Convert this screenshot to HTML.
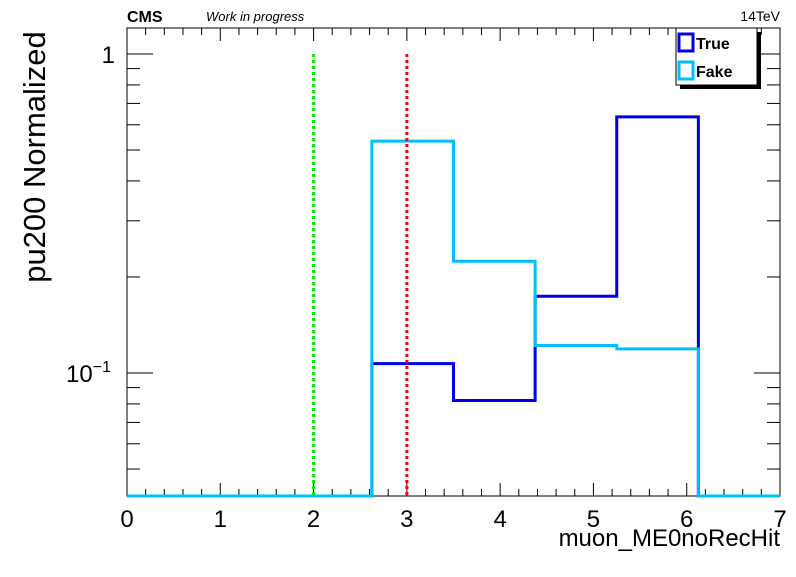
<!DOCTYPE html>
<html><head><meta charset="utf-8"><style>
body{margin:0;background:#fff;}
svg text{font-family:"Liberation Sans",Arial,sans-serif;}
</style></head><body>
<svg id="c" width="796" height="572" viewBox="0 0 796 572" xmlns="http://www.w3.org/2000/svg">
<rect width="796" height="572" fill="#fff"/>
<text x="127" y="22" font-size="16" font-weight="bold">CMS</text>
<text x="206" y="21" font-size="13" font-style="italic">Work in progress</text>
<text x="780" y="21" font-size="14" text-anchor="end">14TeV</text>
<g id="plot"></g>
<text transform="translate(45,157) rotate(-90)" font-size="31" text-anchor="middle">pu200 Normalized</text>
<text x="780" y="546" font-size="24" text-anchor="end">muon_ME0noRecHit</text>
<g>
<rect x="680" y="32" width="81" height="57" fill="#000"/>
<rect x="676" y="28" width="81" height="57" fill="#fff" stroke="#000" stroke-width="1"/>
<rect x="679" y="34" width="14" height="17" fill="none" stroke="#0000e6" stroke-width="3"/>
<text x="696" y="49" font-size="16" font-weight="bold">True</text>
<rect x="679" y="62" width="14" height="17" fill="none" stroke="#00bfff" stroke-width="3"/>
<text x="696" y="77" font-size="16" font-weight="bold">Fake</text>
</g>
</svg>
<script>
const binEdges=[0,0.875,1.75,2.625,3.5,4.375,5.25,6.125,7];
const trueValues=[0,0,0,0.107,0.082,0.174,0.635,0];
const fakeValues=[0,0,0,0.533,0.224,0.122,0.119,0];
const xTicks=[0,1,2,3,4,5,6,7];
const cutLines=[2,3];
const L=127,R=780,T=28,B=496;
const xMin=0,xMax=7;
const yTopLog=(54-T)/319, yBotLog=-1-(B-373)/319;
function X(v){return L+(v-xMin)/(xMax-xMin)*(R-L);}
function Y(v){if(v<=0)return B;const l=Math.log10(v);let y=T+(yTopLog-l)/(yTopLog-yBotLog)*(B-T);return Math.min(B,Math.max(T,y));}
const NS="http://www.w3.org/2000/svg";
const g=document.getElementById('plot');
function el(t,a){const e=document.createElementNS(NS,t);for(const k in a)e.setAttribute(k,a[k]);g.appendChild(e);return e;}
let fr=el('rect',{x:L,y:T,width:R-L,height:B-T,fill:'none',stroke:'#000','stroke-width':1});


for(let i=0;i<=35;i++){const v=i*0.2;const x=X(v);const major=i%5===0;const len=major?13:7;
 el('line',{x1:x,y1:B,x2:x,y2:B-len,stroke:'#000'});el('line',{x1:x,y1:T,x2:x,y2:T+len,stroke:'#000'});}
xTicks.forEach(v=>{const t=el('text',{x:X(v),y:527,'font-size':24,'text-anchor':'middle'});t.textContent=v;
 
 });
const minor=[];for(let d=-2;d<=0;d++)for(let m=1;m<=9;m++)minor.push(m*Math.pow(10,d));
minor.forEach(v=>{const l=Math.log10(v);if(l<yBotLog||l>yTopLog)return;const y=Y(v);const major=Math.abs(l-Math.round(l))<1e-9;const len=major?26:13;
 el('line',{x1:L,y1:y,x2:L+len,y2:y,stroke:'#000'});el('line',{x1:R,y1:y,x2:R-len,y2:y,stroke:'#000'});});
let t1=el('text',{x:115,y:Y(1)+9,'font-size':24,'text-anchor':'end'});t1.textContent='1';


let t2=el('text',{x:111,y:Y(0.1)+9,'font-size':24,'text-anchor':'end'});t2.innerHTML='10<tspan dy="-10" font-size="16">−1</tspan>';


function hist(vals,color,name){let d='';for(let i=0;i<vals.length;i++){const x0=X(binEdges[i]),x1=X(binEdges[i+1]),y=Y(vals[i]);d+=(i===0?'M':'L')+x0+','+y+'L'+x1+','+y;}
 const p=el('path',{d:d,fill:'none',stroke:color,'stroke-width':3});
 
 }
hist(trueValues,'#0000e6','true-histogram');
hist(fakeValues,'#00bfff','fake-histogram');
const cutColors=['#00ee00','#ff0000'];
cutLines.forEach((v,i)=>{const ln=el('line',{x1:X(v),y1:Y(1),x2:X(v),y2:B,stroke:cutColors[i],'stroke-width':3,'stroke-dasharray':'3,3'});
 
 });
</script>
</body></html>
